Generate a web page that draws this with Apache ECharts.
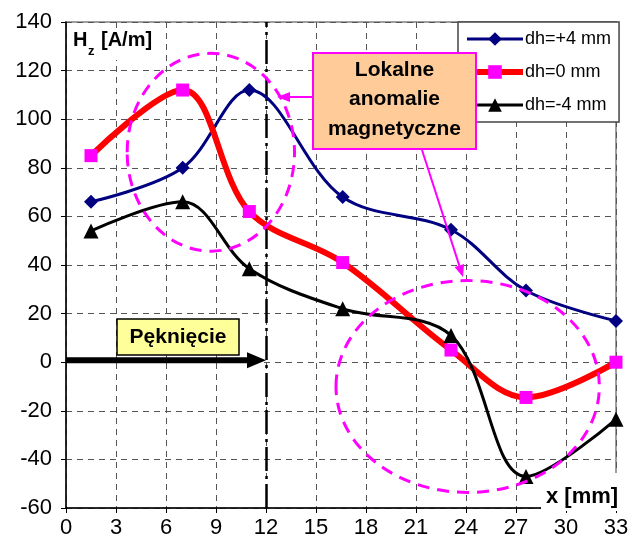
<!DOCTYPE html>
<html>
<head>
<meta charset="utf-8">
<script src="https://cdn.jsdelivr.net/npm/echarts@6/dist/echarts.min.js"></script>
<style>
html,body{margin:0;padding:0;background:#fff;}
#chart{width:638px;height:547px;}
</style>
</head>
<body>
<div id="chart"></div>
<script>
// ---- data ----
const xPositions = [1.5, 7, 11, 16.6, 23.1, 27.6, 33];          // x [mm]
const dhPlus4  = [66, 80, 112, 68, 54.5, 29.5, 17];               // dh=+4 mm
const dhZero   = [85, 112, 62, 41, 5, -14.5, 0];                  // dh=0 mm
const dhMinus4 = [54, 66, 38.5, 22, 11, -47, -23.5];              // dh=-4 mm
const seriesNames = ['dh=+4 mm', 'dh=0 mm', 'dh=-4 mm'];
const crackEnd = 12;   // Pęknięcie ends at x = 12 mm

const FONT = "'Liberation Sans', Arial, sans-serif";
const pairs = arr => xPositions.map((x, i) => [x, arr[i]]);

const chart = echarts.init(document.getElementById('chart'), null, {renderer: 'canvas'});

const option = {
  animation: false,
  backgroundColor: '#ffffff',
  grid: {
    left: 66, right: 22, top: 22, bottom: 39,
    show: true, borderColor: '#808080', borderWidth: 1.5, backgroundColor: 'transparent'
  },
  xAxis: {
    type: 'value', min: 0, max: 33, interval: 3,
    axisLine: {onZero: false, lineStyle: {color: '#000', width: 1.5}},
    axisTick: {show: true, length: 5, lineStyle: {color: '#000', width: 1}},
    axisLabel: {color: '#000', fontSize: 22, fontFamily: FONT, margin: 9},
    splitLine: {show: true, lineStyle: {color: '#555', width: 1, type: [6, 5]}}
  },
  yAxis: {
    type: 'value', min: -60, max: 140, interval: 20,
    axisLine: {show: true, onZero: false, lineStyle: {color: '#000', width: 1.5}},
    axisTick: {show: true, length: 5, lineStyle: {color: '#000', width: 1}},
    axisLabel: {color: '#000', fontSize: 22, fontFamily: FONT, margin: 14},
    splitLine: {show: true, lineStyle: {color: '#555', width: 1, type: [6, 5]}}
  },
  legend: {
    orient: 'vertical', left: 458, top: 22,
    data: seriesNames,
    itemWidth: 56, itemHeight: 17, itemGap: 15,
    padding: [8, 8, 8, 6],
    lineStyle: {width: 'inherit'},
    backgroundColor: '#fff', borderColor: '#444', borderWidth: 1.5,
    textStyle: {color: '#000', fontSize: 18, fontFamily: FONT, padding: [0, 0, 0, -3]},
    z: 4
  },
  series: [
    {
      name: seriesNames[0], type: 'line', data: pairs(dhPlus4), smooth: 0.35,
      symbol: 'diamond', symbolSize: 14,
      lineStyle: {color: '#000080', width: 3},
      itemStyle: {color: '#000080'},
      z: 3,
      markLine: {
        silent: true, symbol: 'none', label: {show: false},
        lineStyle: {color: '#000', width: 2.5, type: [24, 5, 3, 5]},
        data: [{xAxis: crackEnd}], z: 2
      }
    },
    {
      name: seriesNames[1], type: 'line', data: pairs(dhZero), smooth: 0.35,
      symbol: 'rect', symbolSize: 13,
      lineStyle: {color: '#ff0000', width: 6},
      itemStyle: {color: '#ff00ff'},
      z: 4
    },
    {
      name: seriesNames[2], type: 'line', data: pairs(dhMinus4), smooth: 0.35,
      symbol: 'triangle', symbolSize: 15,
      lineStyle: {color: '#000', width: 3},
      itemStyle: {color: '#000'},
      z: 5
    }
  ]
};
chart.setOption(option);

// ---- annotations, placed through the chart's own coordinate system ----
const P = (x, y) => chart.convertToPixel({gridIndex: 0}, [x, y]);
const pxPerX = P(1, 0)[0] - P(0, 0)[0];
const pxPerY = P(0, 0)[1] - P(0, 1)[1];

const e1 = P(8.69, 86.4), e2 = P(24.1, -10);
const a0 = P(0, 0), a1 = P(crackEnd, 0);
const dash = {stroke: '#ff00ff', lineWidth: 3, lineDash: [12, 8], fill: null};

// arrow from box to lower ellipse
const t2 = [463, 277], s2 = [422, 150];
const dx = t2[0] - s2[0], dy = t2[1] - s2[1], L = Math.hypot(dx, dy);
const ux = dx / L, uy = dy / L;
const b2 = [t2[0] - 12 * ux, t2[1] - 12 * uy];

chart.setOption({
  graphic: [
    // ellipses
    {type: 'ellipse', z: 60, shape: {cx: e1[0], cy: e1[1], rx: 5.02 * pxPerX, ry: 40.7 * pxPerY}, style: dash},
    {type: 'ellipse', z: 60, shape: {cx: e2[0], cy: e2[1], rx: 7.9 * pxPerX, ry: 43.6 * pxPerY}, style: dash},
    // crack arrow
    {type: 'line', z: 55, shape: {x1: a0[0], y1: a0[1] - 2, x2: a1[0] - 16, y2: a1[1] - 2}, style: {stroke: '#000', lineWidth: 6}},
    {type: 'polygon', z: 55, shape: {points: [[a1[0], a1[1] - 2], [a1[0] - 19, a1[1] - 10], [a1[0] - 19, a1[1] + 6]]}, style: {fill: '#000'}},
    // Pęknięcie label box
    {type: 'rect', z: 61, shape: {x: 117, y: 319, width: 122, height: 36}, style: {fill: '#ffff99', stroke: '#000', lineWidth: 1.5}},
    {type: 'text', z: 62, style: {x: 178, y: 337, text: 'Pęknięcie', font: "bold 21px " + FONT, fill: '#000', textAlign: 'center', textVerticalAlign: 'middle'}},
    // arrows from the Lokalne box
    {type: 'line', z: 59, shape: {x1: 313, y1: 97, x2: 288, y2: 97}, style: {stroke: '#ff00ff', lineWidth: 2}},
    {type: 'polygon', z: 59, shape: {points: [[277, 97], [290, 92], [290, 102]]}, style: {fill: '#ff00ff'}},
    {type: 'line', z: 59, shape: {x1: s2[0], y1: s2[1], x2: b2[0], y2: b2[1]}, style: {stroke: '#ff00ff', lineWidth: 2}},
    {type: 'polygon', z: 59, shape: {points: [t2, [b2[0] - 5 * uy, b2[1] + 5 * ux], [b2[0] + 5 * uy, b2[1] - 5 * ux]]}, style: {fill: '#ff00ff'}},
    // Lokalne anomalie magnetyczne box
    {type: 'rect', z: 63, shape: {x: 313, y: 53, width: 163, height: 96}, style: {fill: '#ffcc99', stroke: '#ff00ff', lineWidth: 2}},
    {type: 'text', z: 64, style: {x: 394.5, y: 70, text: 'Lokalne', font: "bold 21px " + FONT, fill: '#000', textAlign: 'center', textVerticalAlign: 'middle'}},
    {type: 'text', z: 64, style: {x: 394.5, y: 99, text: 'anomalie', font: "bold 21px " + FONT, fill: '#000', textAlign: 'center', textVerticalAlign: 'middle'}},
    {type: 'text', z: 64, style: {x: 394.5, y: 129, text: 'magnetyczne', font: "bold 21px " + FONT, fill: '#000', textAlign: 'center', textVerticalAlign: 'middle'}},
    // H_z [A/m] axis title
    {type: 'rect', z: 50, shape: {x: 70, y: 31, width: 94, height: 29}, style: {fill: '#fff'}},
    {type: 'text', z: 51, style: {x: 73, y: 50, text: 'H', font: "bold 20px " + FONT, fill: '#000', textVerticalAlign: 'bottom'}},
    {type: 'text', z: 51, style: {x: 88, y: 58, text: 'z', font: "bold 13px " + FONT, fill: '#000', textVerticalAlign: 'bottom'}},
    {type: 'text', z: 51, style: {x: 101, y: 50, text: '[A/m]', font: "bold 20px " + FONT, fill: '#000', textVerticalAlign: 'bottom'}},
    // x [mm] axis title
    {type: 'rect', z: 50, shape: {x: 541, y: 473, width: 92, height: 38}, style: {fill: '#fff'}},
    {type: 'text', z: 51, style: {x: 546, y: 497, text: 'x [mm]', font: "bold 22px " + FONT, fill: '#000', textVerticalAlign: 'middle'}}
  ]
});
</script>
</body>
</html>
